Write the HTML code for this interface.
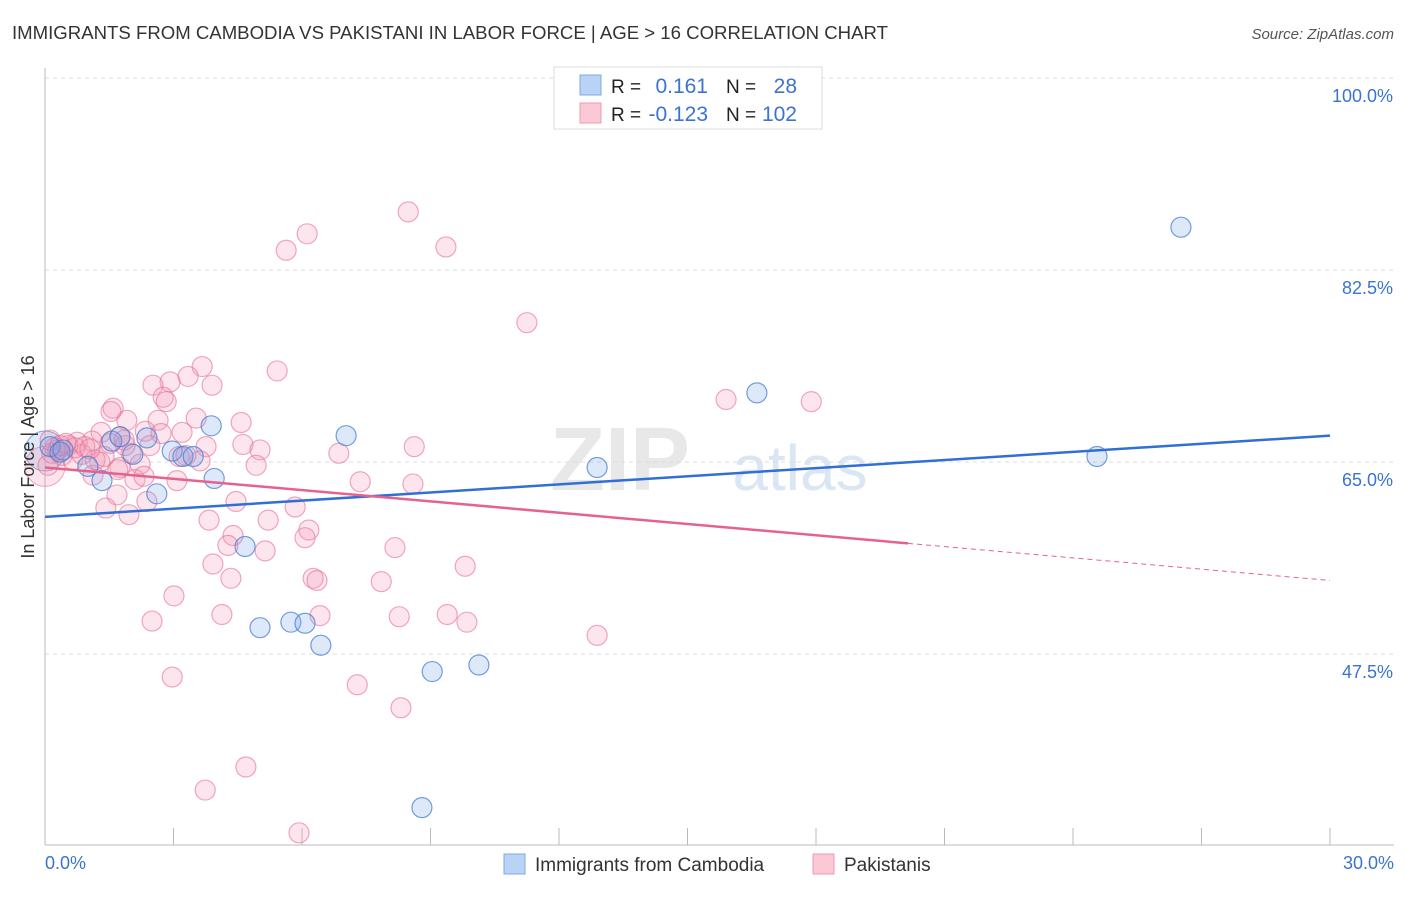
<!DOCTYPE html>
<html><head><meta charset="utf-8"><style>
body{margin:0;background:#fff;font-family:"Liberation Sans",sans-serif;}
svg text{font-family:"Liberation Sans",sans-serif;}
</style></head><body>
<svg id="chart" width="1406" height="892" xmlns="http://www.w3.org/2000/svg">
<text x="12" y="39" font-size="18.6" fill="#333">IMMIGRANTS FROM CAMBODIA VS PAKISTANI IN LABOR FORCE | AGE &gt; 16 CORRELATION CHART</text>
<text x="1394" y="39" font-size="15" fill="#555" font-style="italic" text-anchor="end">Source: ZipAtlas.com</text>
<text x="620" y="490" font-size="90" fill="#e8e8e8" font-family="Liberation Serif" font-weight="bold" text-anchor="middle">ZIP</text>
<text x="800" y="490" font-size="64" fill="#dbe6f4" text-anchor="middle">atlas</text>
<g id="grid"></g>
<g id="axes"></g>
<g id="pts"></g>
<g id="trends"></g>
<text transform="translate(34,457) rotate(-90)" font-size="18" fill="#333" text-anchor="middle">In Labor Force | Age &gt; 16</text>
<text x="45" y="869" font-size="18" fill="#3a74d0">0.0%</text>
<text x="1394" y="869" font-size="18" fill="#3a74d0" text-anchor="end">30.0%</text>
<g>
<rect x="554" y="67" width="268" height="62" fill="#fff" stroke="#ddd"/>
<rect x="580" y="75" width="21" height="20" fill="#b9d3f5" stroke="#7ea8e6"/>
<rect x="580" y="103" width="21" height="20" fill="#fbc8d6" stroke="#ee9ab2"/>
<text x="611" y="93" font-size="19" fill="#222">R =</text>
<text x="708" y="93" font-size="21" fill="#3a74d0" text-anchor="end">0.161</text>
<text x="726" y="93" font-size="19" fill="#222">N =</text>
<text x="797" y="93" font-size="21" fill="#3a74d0" text-anchor="end">28</text>
<text x="611" y="121" font-size="19" fill="#222">R =</text>
<text x="708" y="121" font-size="21" fill="#3a74d0" text-anchor="end">-0.123</text>
<text x="726" y="121" font-size="19" fill="#222">N =</text>
<text x="797" y="121" font-size="21" fill="#3a74d0" text-anchor="end">102</text>
</g>
<g>
<rect x="504" y="854" width="21" height="20" fill="#b9d3f5" stroke="#7ea8e6"/>
<text x="535" y="871" font-size="19" fill="#333">Immigrants from Cambodia</text>
<rect x="813" y="854" width="21" height="20" fill="#fbc8d6" stroke="#ee9ab2"/>
<text x="844" y="871" font-size="19" fill="#333">Pakistanis</text>
</g>
</svg>
<script>
const yTicks=[47.5,65.0,82.5,100.0];
const blueX=[0.12,0.35,1.0,1.33,1.56,1.75,2.38,2.61,2.97,3.22,3.46,3.88,3.95,4.67,5.02,5.74,6.07,6.44,7.03,9.04,10.13,8.8,12.89,16.62,24.56,26.52,0.42,2.05];
const blueY=[66.4,65.9,64.6,63.3,66.9,67.3,67.2,62.1,66.0,65.5,65.5,68.3,63.5,57.3,49.9,50.4,50.3,48.3,67.4,45.9,46.5,33.5,64.5,71.3,65.5,86.4,66.1,65.7];
const pinkX=[8.48,6.12,5.63,9.36,11.25,5.42,3.67,3.34,2.92,2.52,3.90,2.76,2.83,1.59,1.54,15.90,17.89,3.53,4.58,2.64,1.91,1.31,3.20,2.34,2.71,1.75,1.10,1.52,0.75,0.54,0.23,0.16,0.40,0.65,0.86,1.28,2.01,2.22,4.62,3.76,5.02,8.62,6.86,4.93,3.62,3.13,1.75,1.70,1.12,2.10,2.31,3.08,7.36,8.59,4.46,5.84,1.68,2.38,1.42,1.96,3.83,5.21,6.16,6.07,4.39,4.27,5.14,8.17,3.92,9.81,4.34,6.26,6.35,7.85,3.01,4.13,2.50,6.42,8.27,9.39,9.85,12.89,7.29,2.97,8.31,4.69,3.74,5.93,0.07,0.12,0.30,0.49,0.70,0.93,1.17,1.38,1.05,1.87,2.45,3.29,1.85,0.35];
const pinkY=[87.8,85.8,84.3,84.6,77.7,73.3,73.7,72.8,72.3,72.0,72.0,70.9,70.5,69.9,69.6,70.7,70.5,69.0,68.6,68.8,68.8,67.7,67.7,67.8,67.6,67.3,66.9,66.7,66.8,66.5,66.3,65.8,65.6,65.2,65.7,65.0,65.8,64.8,66.6,66.4,66.1,66.4,65.8,64.7,65.1,65.5,64.5,64.3,63.8,63.4,63.7,63.3,63.2,63.0,61.4,60.9,62.0,61.4,60.8,60.2,59.7,59.7,58.8,58.1,58.3,57.4,56.9,57.2,55.7,55.5,54.4,54.4,54.2,54.1,52.8,51.1,50.5,51.0,50.9,51.1,50.4,49.2,44.7,45.4,42.6,37.2,35.1,31.2,64.7,67.0,66.1,66.7,66.3,66.4,65.2,65.5,66.2,66.5,66.5,65.6,67.0,66.5];
const blueTrend=[60.0,67.4];
const pinkTrend=[64.5,54.2];
const pinkSolidEnd=20.15;
const NS="http://www.w3.org/2000/svg";
const X0=45,X1=1330,Y100=78,Y475=654;
function sx(v){return X0+(v/30)*(X1-X0);}
function sy(v){return Y100+(100-v)/(100-47.5)*(Y475-Y100);}
function mk(t,a,p){const e=document.createElementNS(NS,t);for(const k in a)e.setAttribute(k,a[k]);p.appendChild(e);return e;}
const grid=document.getElementById('grid'),axes=document.getElementById('axes'),pts=document.getElementById('pts'),tr=document.getElementById('trends');
yTicks.forEach(t=>{const y=sy(t);
const l=mk('line',{x1:45,x2:1394,y1:y,y2:y,stroke:'#ddd','stroke-dasharray':'4,4'},grid);


const tx=mk('text',{x:1393,y:y+24,'font-size':18,fill:'#3a74d0','text-anchor':'end'},grid);tx.textContent=t.toFixed(1)+'%';

});
const ya=mk('line',{x1:45,x2:45,y1:68,y2:845,stroke:'#bbb'},axes);


const xa=mk('line',{x1:45,x2:1394,y1:845,y2:845,stroke:'#bbb'},axes);


for(let i=1;i<=10;i++){const x=sx(i*3);const tk=mk('line',{x1:x,x2:x,y1:828,y2:845,stroke:'#bbb'},axes);

}
const b0=mk('circle',{cx:sx(0),cy:sy(66.0),r:20,fill:'rgba(120,165,230,0.25)',stroke:'rgba(70,125,215,0.7)'},pts);


const p0=mk('circle',{cx:sx(0),cy:sy(64.6),r:20,fill:'rgba(245,150,180,0.25)',stroke:'rgba(232,110,150,0.6)'},pts);


pinkX.forEach((v,i)=>{const c=mk('circle',{cx:sx(v),cy:sy(pinkY[i]),r:10,fill:'rgba(245,150,180,0.25)',stroke:'rgba(232,110,150,0.6)','stroke-width':1.2},pts);

});
blueX.forEach((v,i)=>{const c=mk('circle',{cx:sx(v),cy:sy(blueY[i]),r:10,fill:'rgba(120,165,230,0.25)',stroke:'rgba(70,125,215,0.75)','stroke-width':1.2},pts);

});
const bl=mk('line',{x1:sx(0),y1:sy(blueTrend[0]),x2:sx(30),y2:sy(blueTrend[1]),stroke:'#2f6fd6','stroke-width':2.5},tr);


const pm=pinkTrend[0]+(pinkTrend[1]-pinkTrend[0])*pinkSolidEnd/30;
const pl=mk('line',{x1:sx(0),y1:sy(pinkTrend[0]),x2:sx(pinkSolidEnd),y2:sy(pm),stroke:'#e5628f','stroke-width':2.5},tr);


const pd=mk('line',{x1:sx(pinkSolidEnd),y1:sy(pm),x2:sx(30),y2:sy(pinkTrend[1]),stroke:'#e5628f','stroke-width':1,'stroke-dasharray':'5,4'},tr);


</script>
</body></html>
